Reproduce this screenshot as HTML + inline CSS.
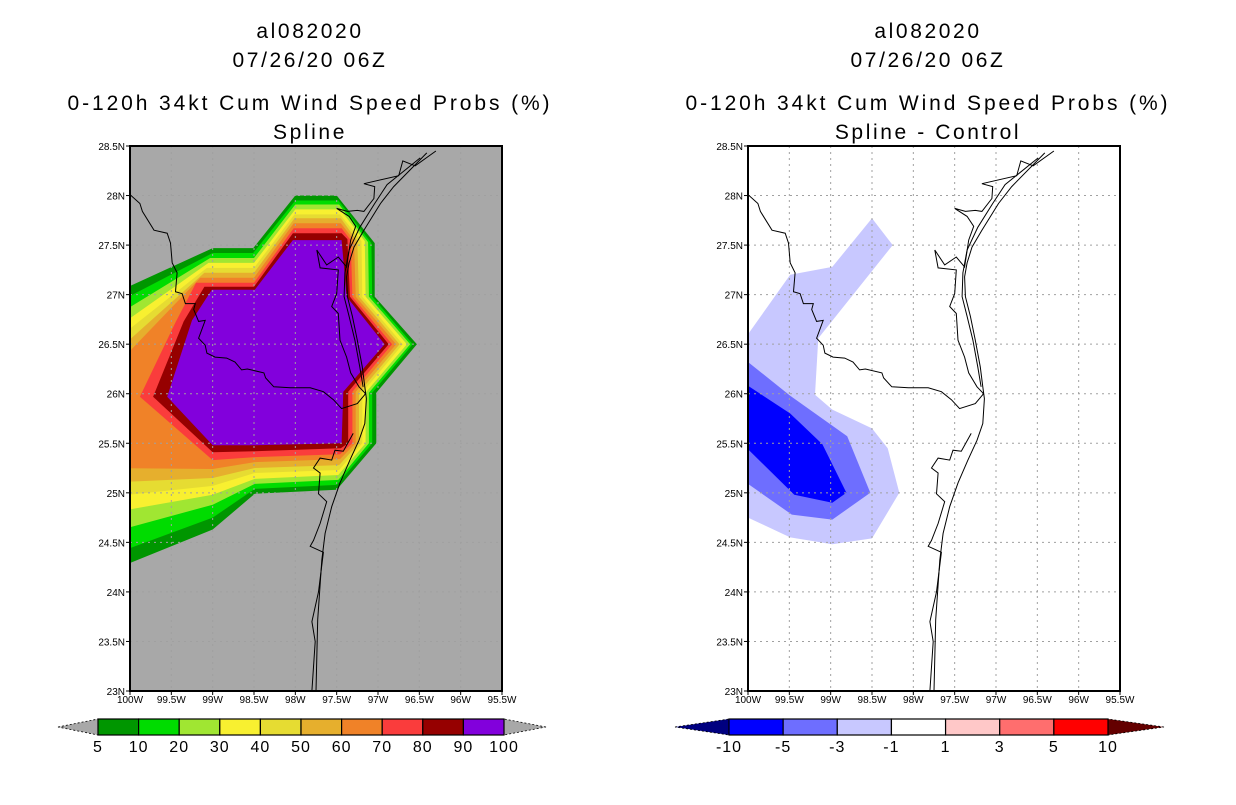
<!DOCTYPE html>
<html><head><meta charset="utf-8"><style>
body{margin:0;background:#fff;width:1236px;height:800px;overflow:hidden}
svg text{font-family:"Liberation Sans",sans-serif}
</style></head><body>
<svg id="fig" width="1236" height="800" viewBox="0 0 1236 800" xmlns="http://www.w3.org/2000/svg"></svg>
<script>
// ---- data ----
const lonTicks=[-100,-99.5,-99,-98.5,-98,-97.5,-97,-96.5,-96,-95.5];
const lonLabels=["100W","99.5W","99W","98.5W","98W","97.5W","97W","96.5W","96W","95.5W"];
const latTicks=[23,23.5,24,24.5,25,25.5,26,26.5,27,27.5,28,28.5];
const latLabels=["23N","23.5N","24N","24.5N","25N","25.5N","26N","26.5N","27N","27.5N","28N","28.5N"];
const probLevels=[5,10,20,30,40,50,60,70,80,90];
const probColors=["#009600","#00dc00","#a0e632","#f8f030","#e6dc32","#e6af2d","#f08228","#fa3c3c","#960000","#8200dc"];
const probLabels=["5","10","20","30","40","50","60","70","80","90","100"];
const p5=[[-98.0,28.0],[-97.5,28.0],[-97.04,27.52],[-97.04,26.98],[-96.53,26.5],[-97.02,26.01],[-97.02,25.5],[-97.5,25.03],[-98.49,24.99],[-99.0,24.63],[-100.36,24.17],[-100.36,26.95],[-99.0,27.47],[-98.51,27.47]];
const p10=[[-98.0,27.95],[-97.48,27.95],[-97.08,27.52],[-97.07,26.98],[-96.58,26.5],[-97.07,26.01],[-97.07,25.5],[-97.5,25.08],[-98.49,25.04],[-99.0,24.75],[-100.36,24.33],[-100.36,26.83],[-99.0,27.42],[-98.51,27.42]];
const p20=[[-98.0,27.91],[-97.47,27.91],[-97.12,27.53],[-97.11,26.98],[-96.61,26.5],[-97.11,26.01],[-97.11,25.5],[-97.48,25.13],[-98.49,25.09],[-99.0,24.88],[-100.36,24.57],[-100.36,26.69],[-99.03,27.37],[-98.5,27.37]];
const p30=[[-98.0,27.86],[-97.46,27.86],[-97.16,27.54],[-97.15,26.98],[-96.65,26.5],[-97.15,26.01],[-97.15,25.5],[-97.48,25.18],[-98.49,25.14],[-99.0,24.98],[-100.36,24.78],[-100.36,26.55],[-99.05,27.32],[-98.5,27.32]];
const p40=[[-98.01,27.81],[-97.46,27.81],[-97.2,27.54],[-97.19,26.98],[-96.7,26.5],[-97.19,26.01],[-97.19,25.5],[-97.47,25.23],[-98.49,25.2],[-99.0,25.07],[-100.36,24.95],[-100.36,26.42],[-99.07,27.27],[-98.5,27.27]];
const p50=[[-98.01,27.77],[-97.45,27.77],[-97.25,27.54],[-97.23,26.98],[-96.74,26.5],[-97.23,26.01],[-97.23,25.5],[-97.47,25.28],[-98.49,25.25],[-99.0,25.15],[-100.36,25.1],[-100.36,26.28],[-99.1,27.22],[-98.5,27.22]];
const p60=[[-98.02,27.72],[-97.45,27.72],[-97.29,27.55],[-97.27,26.98],[-96.78,26.5],[-97.27,26.02],[-97.27,25.5],[-97.46,25.34],[-98.49,25.31],[-99.0,25.24],[-100.36,25.25],[-100.36,26.12],[-99.15,27.17],[-98.5,27.17]];
const p70=[[-98.02,27.67],[-97.44,27.67],[-97.33,27.55],[-97.31,26.98],[-96.83,26.5],[-97.31,26.02],[-97.31,25.5],[-97.46,25.39],[-98.49,25.36],[-99.0,25.33],[-99.88,25.97],[-99.45,26.72],[-99.2,27.12],[-98.5,27.12]];
const p80=[[-98.03,27.62],[-97.44,27.62],[-97.37,27.56],[-97.34,26.98],[-96.87,26.5],[-97.36,26.02],[-97.36,25.5],[-97.45,25.45],[-98.49,25.42],[-99.0,25.41],[-99.72,25.97],[-99.35,26.73],[-99.1,27.08],[-98.5,27.08]];
const p90=[[-98.03,27.55],[-97.44,27.55],[-97.44,27.55],[-97.38,26.98],[-96.92,26.5],[-97.42,26.02],[-97.44,25.5],[-97.44,25.5],[-98.49,25.48],[-99.0,25.48],[-99.55,25.97],[-99.25,26.74],[-99.01,27.05],[-98.49,27.05]];
const probPolys=[p5,p10,p20,p30,p40,p50,p60,p70,p80,p90];

const diffColors=["#000080","#0000ff","#6e6eff","#c8c8ff","#ffffff","#ffc8c8","#ff6e6e","#ff0000","#640000"];
const diffLabels=["-10","-5","-3","-1","1","3","5","10"];
const dLight=[[-100.3,26.9],[-100,26.6],[-99.49,27.2],[-98.98,27.28],[-98.5,27.77],[-98.25,27.5],[-99.15,26.56],[-99.19,25.99],[-98.98,25.84],[-98.5,25.65],[-98.31,25.45],[-98.17,25.0],[-98.5,24.54],[-98.98,24.48],[-99.49,24.55],[-100,24.75],[-100.3,24.9]];
const dMed=[[-100.3,26.5],[-100,26.32],[-99.49,25.98],[-98.8,25.57],[-98.52,25.0],[-98.98,24.73],[-99.47,24.78],[-100,25.09],[-100.3,25.3]];
const dDark=[[-100.3,26.25],[-100,26.08],[-99.49,25.8],[-99.1,25.49],[-98.81,25.0],[-98.98,24.9],[-99.44,24.98],[-100,25.44],[-100.3,25.7]];

const border=[[-100,28.01],[-99.88,27.92],[-99.85,27.84],[-99.71,27.65],[-99.55,27.62],[-99.51,27.52],[-99.49,27.32],[-99.43,27.22],[-99.45,27.03],[-99.37,27.01],[-99.33,26.91],[-99.21,26.91],[-99.23,26.85],[-99.17,26.73],[-99.09,26.74],[-99.17,26.56],[-99.09,26.49],[-99.07,26.41],[-98.97,26.37],[-98.83,26.36],[-98.73,26.32],[-98.65,26.24],[-98.58,26.25],[-98.38,26.21],[-98.36,26.16],[-98.26,26.07],[-98.06,26.06],[-97.82,26.06],[-97.66,26.02],[-97.54,25.94],[-97.44,25.85],[-97.25,25.9],[-97.15,26.0]];
const coastOuter=[[-96.41,28.43],[-96.81,28.09],[-96.97,27.92],[-97.17,27.65],[-97.29,27.48],[-97.35,27.32],[-97.38,27.18],[-97.37,26.98],[-97.31,26.78],[-97.25,26.54],[-97.19,26.27],[-97.16,26.07],[-97.14,25.95],[-97.16,25.7],[-97.23,25.53],[-97.34,25.33],[-97.46,25.1],[-97.56,24.86],[-97.64,24.59],[-97.68,24.32],[-97.73,23.72],[-97.75,23.0]];
const coastInner=[[-96.49,28.38],[-96.89,28.11],[-97.04,27.92],[-97.22,27.68],[-97.35,27.45],[-97.4,27.22],[-97.41,26.98],[-97.35,26.78],[-97.28,26.54],[-97.22,26.27],[-97.18,26.07]];
const coastMain=[[-96.3,28.45],[-96.55,28.3],[-96.7,28.35],[-96.75,28.2],[-97.17,28.12],[-97.04,28.09],[-97.05,27.97],[-97.17,27.84],[-97.25,27.85],[-97.37,27.84],[-97.5,27.87],[-97.35,27.79],[-97.27,27.69],[-97.33,27.55],[-97.38,27.28],[-97.48,27.38],[-97.62,27.3],[-97.74,27.45],[-97.7,27.27],[-97.48,27.25],[-97.5,27.01],[-97.56,26.88],[-97.48,26.81],[-97.46,26.54],[-97.38,26.37],[-97.33,26.21],[-97.23,26.07],[-97.15,26.0]];
const coastSouth=[[-97.3,25.6],[-97.42,25.42],[-97.52,25.43],[-97.56,25.33],[-97.7,25.35],[-97.78,25.25],[-97.7,25.2],[-97.72,24.99],[-97.62,24.91],[-97.7,24.69],[-97.78,24.52],[-97.82,24.46],[-97.66,24.4],[-97.72,24.0],[-97.8,23.7],[-97.76,23.5],[-97.8,23.0]];
const coastLines=[border,coastOuter,coastInner,coastMain,coastSouth];

// ---- drawing ----
const NS="http://www.w3.org/2000/svg";
const svg=document.getElementById('fig');
function el(tag,attrs,parent){const e=document.createElementNS(NS,tag);for(const k in attrs)e.setAttribute(k,attrs[k]);(parent||svg).appendChild(e);return e;}
const mapW=372,mapH=545,mapY=146;
function xs(x0){return lon=>x0+(lon+100)/4.5*mapW;}
function ys(lat){return mapY+(28.5-lat)/5.5*mapH;}
function pts(arr,X){return arr.map(p=>X(p[0]).toFixed(1)+","+ys(p[1]).toFixed(1)).join(" ");}
function txt(x,y,s,size,anchor,parent){const t=el('text',{x:x,y:y,'font-size':size,'text-anchor':anchor||'middle',fill:'#000'},parent);t.textContent=s;return t;}

function panel(x0,id,bg,subtitle){
  const X=xs(x0);
  const g=el('g',{});
  
  
  const cx=x0+186-6;
  let t;
  const ls={'letter-spacing':'2.6px'};
  t=txt(cx,38,"al082020",21,'middle',g);t.setAttribute('letter-spacing','2.6px');
  t=txt(cx,67,"07/26/20 06Z",21,'middle',g);t.setAttribute('letter-spacing','2.6px');
  t=txt(cx,110,"0-120h 34kt Cum Wind Speed Probs (%)",21,'middle',g);t.setAttribute('letter-spacing','2.9px');
  t=txt(cx,139,subtitle,21,'middle',g);t.setAttribute('letter-spacing','2.6px');
  const cp=el('clipPath',{id:'clip'+id},g);
  el('rect',{x:x0,y:mapY,width:mapW,height:mapH},cp);
  const bgR=el('rect',{x:x0,y:mapY,width:mapW,height:mapH,fill:bg},g);
  
  const fg=el('g',{'clip-path':'url(#clip'+id+')'},g);
  return {X,g,fg};
}
function decorate(P,x0,id){
  const {X,g,fg}=P;
  const grid=el('g',{stroke:'#a0a0a0','stroke-width':1,'stroke-dasharray':'2,4'},fg);
  
  lonTicks.forEach(l=>el('line',{x1:X(l),x2:X(l),y1:mapY,y2:mapY+mapH},grid));
  latTicks.forEach(l=>el('line',{x1:x0,x2:x0+mapW,y1:ys(l),y2:ys(l)},grid));
  const cg=el('g',{fill:'none',stroke:'#000','stroke-width':1},fg);
  
  coastLines.forEach(c=>{const pl=el('polyline',{points:pts(c,X)},cg);});
  const fr=el('rect',{x:x0,y:mapY,width:mapW,height:mapH,fill:'none',stroke:'#000','stroke-width':2},g);
  
  lonTicks.forEach((l,i)=>{el('line',{x1:X(l),x2:X(l),y1:mapY+mapH,y2:mapY+mapH+4,stroke:'#000'},g);
    const t=txt(X(l),mapY+mapH+12,lonLabels[i],10,'middle',g);});
  latTicks.forEach((l,i)=>{el('line',{x1:x0-4,x2:x0,y1:ys(l),y2:ys(l),stroke:'#000'},g);
    const t=txt(x0-5,ys(l)+4,latLabels[i],10,'end',g);});
}
// left panel
const L=panel(130,'left','#a8a8a8','Spline');
probPolys.forEach((p,i)=>{const pg=el('polygon',{points:pts(p,L.X),fill:probColors[i]},L.fg);
  
  });
decorate(L,130,'left');
// right panel
const R=panel(748,'right','#ffffff','Spline - Control');
[[dLight,3],[dMed,2],[dDark,1]].forEach(([p,ci])=>{const pg=el('polygon',{points:pts(p,R.X),fill:diffColors[ci]},R.fg);
  
  });
decorate(R,748,'right');

// colorbars
function colorbar(id,x0,x1,tipL,tipR,colors,labels,endL,endR){
  const g=el('g',{});
  
  
  const y0=719,y1=735,ym=727,w=(x1-x0)/colors.length;
  el('polygon',{points:`${tipL},${ym} ${x0},${y0} ${x0},${y1}`,fill:endL,stroke:'#000','stroke-width':0.8,'stroke-dasharray':'2,2'},g);
  el('polygon',{points:`${tipR},${ym} ${x1},${y0} ${x1},${y1}`,fill:endR,stroke:'#000','stroke-width':0.8,'stroke-dasharray':'2,2'},g);
  colors.forEach((c,i)=>{const r=el('rect',{x:x0+i*w,y:y0,width:w,height:y1-y0,fill:c,stroke:'#000','stroke-width':1.2},g);
    });
  labels.forEach((s,i)=>{const t=txt(x0+i*w,752,s,16,'middle',g);t.setAttribute('letter-spacing','1px');});
}
colorbar('prob-colorbar',98,504,58,546,probColors,probLabels,'#a8a8a8','#a8a8a8');
colorbar('diff-colorbar',729,1108,675,1164,diffColors.slice(1,8),diffLabels,diffColors[0],diffColors[8]);
</script>
</body></html>
